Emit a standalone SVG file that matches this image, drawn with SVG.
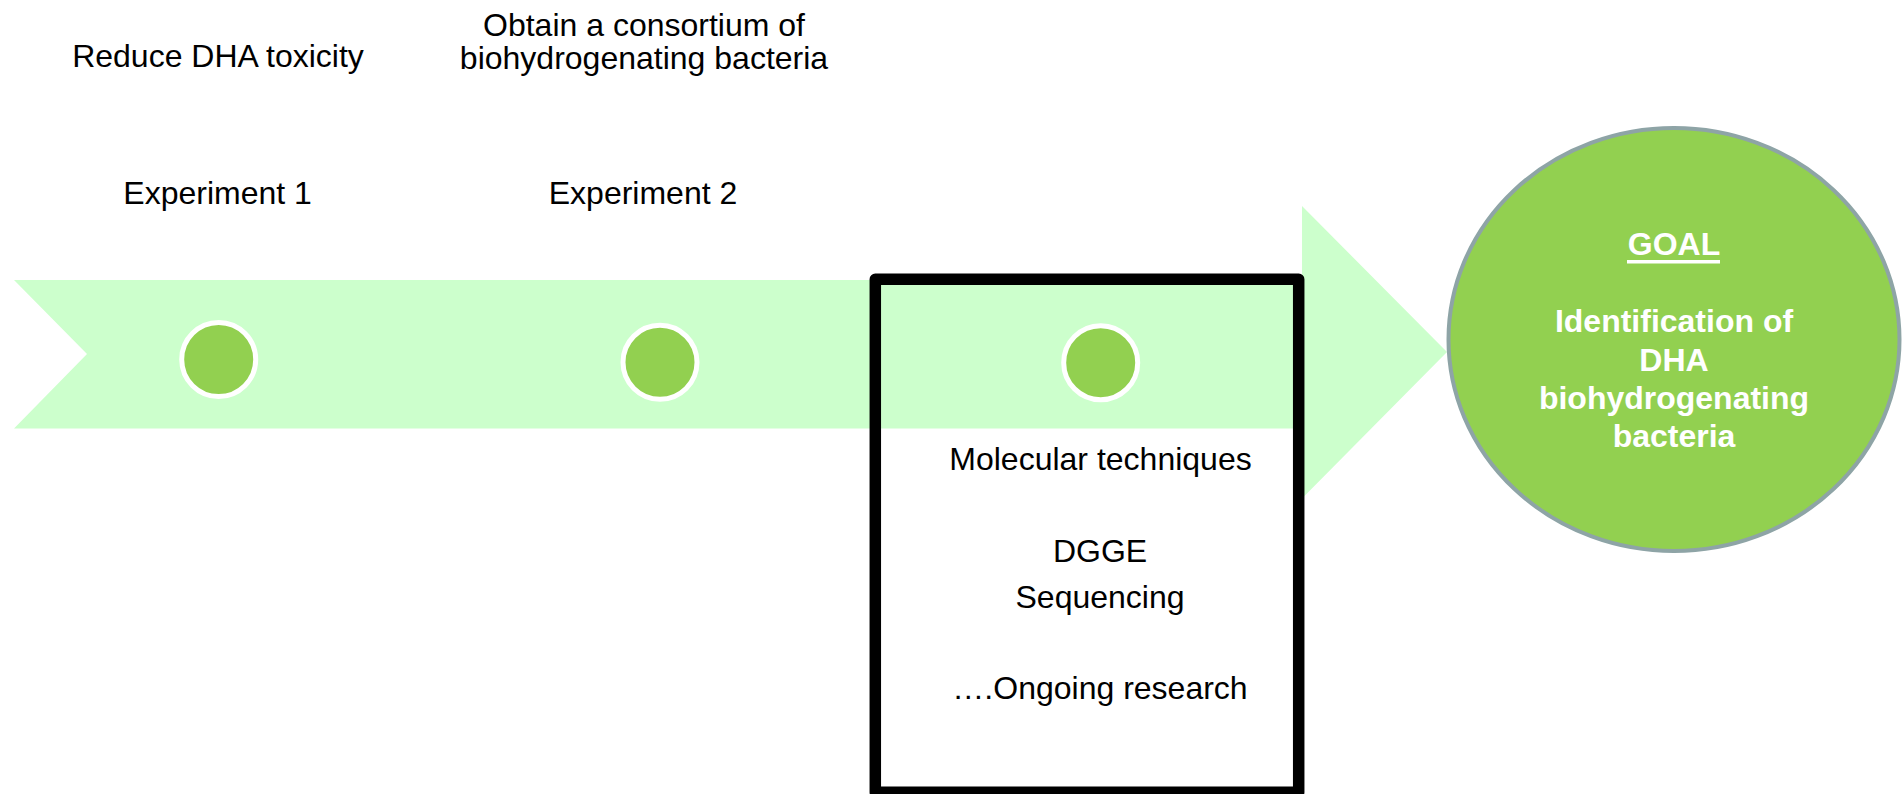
<svg xmlns="http://www.w3.org/2000/svg" width="1903" height="794" viewBox="0 0 1903 794">
  <style>
    .t { font-family: "Liberation Sans", Arial, sans-serif; font-size: 32px; fill: #000000; text-anchor: middle; }
    .g { font-family: "Liberation Sans", Arial, sans-serif; font-size: 32px; font-weight: bold; fill: #FFFFFF; text-anchor: middle; }
    .band { fill: #CCFFCC; }
    .dot { fill: #92D050; stroke: #FFFFFF; stroke-width: 5; }
  </style>
  <rect x="0" y="0" width="1903" height="794" fill="#FFFFFF"/>

  <g id="timeline">
    <polygon class="band" points="14,280 1302,280 1302,206 1447,352 1302,498.5 1302,428.5 14,428.5 87,354"/>
  </g>

  <g id="box-molecular">
    <rect x="875.3" y="279.3" width="423.4" height="513" fill="none" stroke="#000000" stroke-width="11.5" stroke-linejoin="round"/>
    <text class="t" x="1100.5" y="470">Molecular techniques</text>
    <text class="t" x="1100" y="561.7">DGGE</text>
    <text class="t" x="1100" y="608">Sequencing</text>
    <text class="t" x="1100" y="699.3">….Ongoing research</text>
  </g>

  <g id="experiment1">
    <text class="t" x="218" y="66.5">Reduce DHA toxicity</text>
    <text class="t" x="217.6" y="204">Experiment 1</text>
    <circle class="dot" cx="218.7" cy="359.5" r="37"/>
  </g>

  <g id="experiment2">
    <text class="t" x="644" y="35.5">Obtain a consortium of</text>
    <text class="t" x="644" y="68.5">biohydrogenating bacteria</text>
    <text class="t" x="643" y="204">Experiment 2</text>
    <circle class="dot" cx="660" cy="362.3" r="37"/>
  </g>

  <g id="experiment3">
    <circle class="dot" cx="1100.7" cy="362.7" r="37"/>
  </g>

  <g id="goal">
    <ellipse cx="1674" cy="339.5" rx="225.5" ry="211.5" fill="#92D050" stroke="#8EA4A6" stroke-width="4"/>
    <text class="g" x="1674" y="255">GOAL</text>
    <line x1="1627" y1="261.7" x2="1720" y2="261.7" stroke="#FFFFFF" stroke-width="3.5"/>
    <text class="g" x="1674" y="332.3">Identification of</text>
    <text class="g" x="1674" y="370.5">DHA</text>
    <text class="g" x="1674" y="408.7">biohydrogenating</text>
    <text class="g" x="1674" y="447">bacteria</text>
  </g>

  <g id="connectors"></g>
</svg>
